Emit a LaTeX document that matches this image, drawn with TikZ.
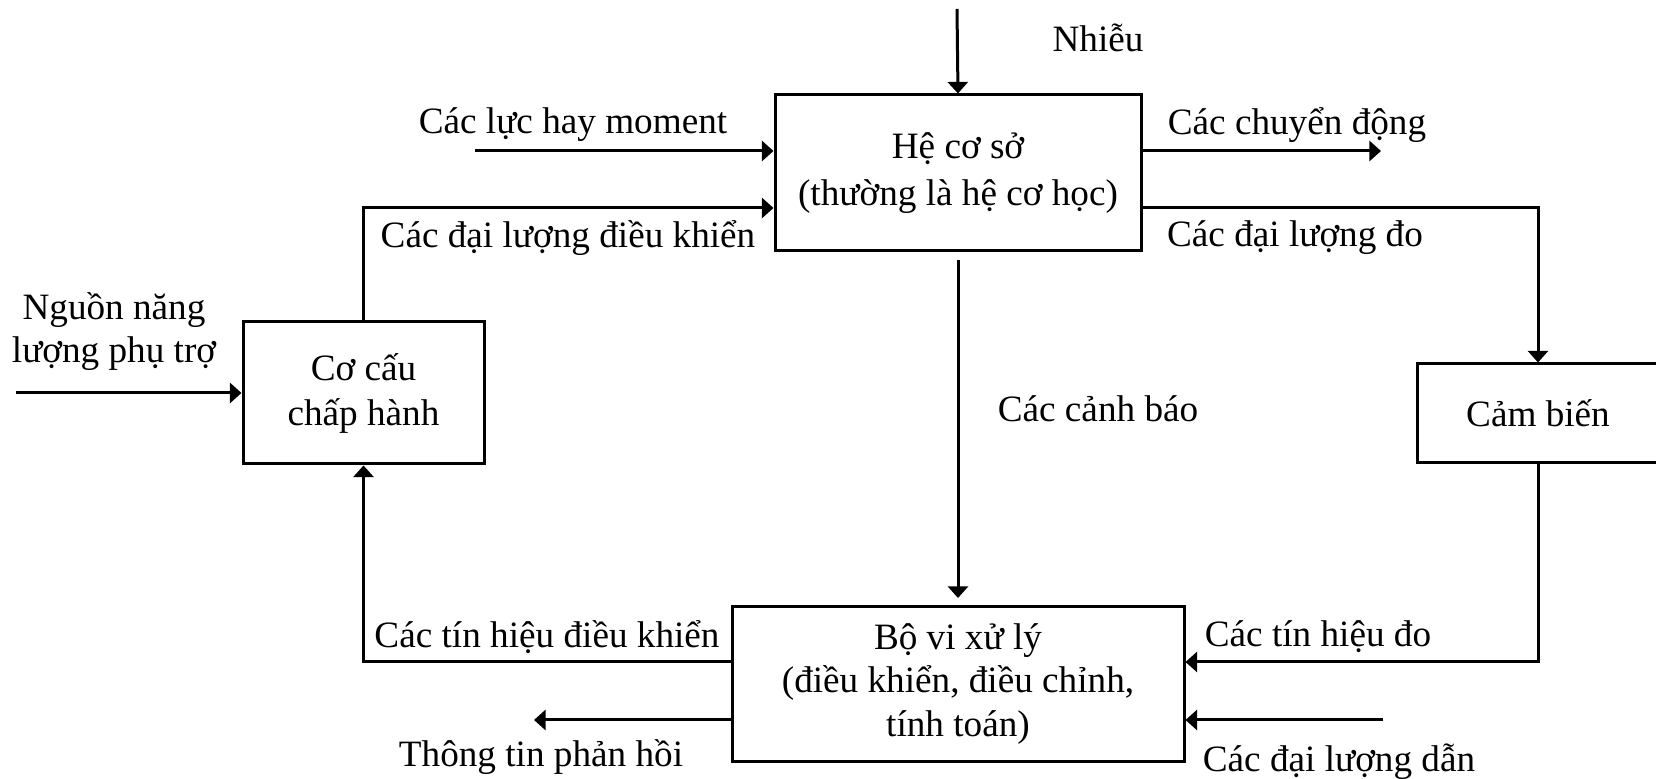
\documentclass[tikz,border=0pt]{standalone}
\usepackage{fontspec}
\setmainfont{Liberation Serif}
\usetikzlibrary{arrows.meta,calc}
\newcommand{\dfont}{\fontsize{18.6}{22.5}\selectfont}
\begin{document}
\begin{tikzpicture}[x=0.5pt,y=-0.5pt,
  box/.style={draw, line width=1.5pt, fill=white, inner sep=0pt, align=center, font=\dfont},
  lbl/.style={inner sep=0pt, align=center, font=\dfont},
  arr/.style={line width=1.5pt, -{Triangle[length=5.8pt,width=10pt]}},
  ln/.style={line width=1.5pt}]
\clip (0,0) rectangle (1656,779);
% boxes
\node[box, minimum width=183pt, minimum height=78pt, font=\fontsize{18.6}{23.5}\selectfont] (main) at (958,173) {\rule{0pt}{3pt}Hệ cơ sở\\(thường là hệ cơ học)};
\node[box, minimum width=120.5pt, minimum height=71pt] (cc) at (363.5,393) {Cơ cấu\\chấp hành};
\node[box, minimum width=121pt, minimum height=49.5pt] (cb) at (1538,413.5) {Cảm biến};
\node[box, minimum width=226pt, minimum height=77.5pt, font=\fontsize{18.6}{21.8}\selectfont] (bo) at (958,684) {Bộ vi xử lý\\(điều khiển, điều chỉnh,\\tính toán)};
% helper coordinates
\coordinate (nh) at (957,9);
\coordinate (fl) at (475,151);
\coordinate (yA) at (0,208);
\coordinate (mv) at (1381,151);
\coordinate (ng) at (16,393);
\coordinate (yB) at (0,662);
\coordinate (tt) at (534,720);
\coordinate (dl) at (1383,720);
% connectors
\draw[arr] (nh) -- (main.north);
\draw[arr] (fl) -- (fl -| main.west);
\draw[arr] (cc.north) |- (main.west |- yA);
\draw[arr] (main.east |- mv) -- (mv);
\draw[arr] (main.east |- yA) -| (cb.north);
\draw[arr, shorten <=4pt, shorten >=3.5pt] (main.south) -- (bo.north);
\draw[arr] (ng) -- (cc.west);
\draw[arr] (bo.west |- yB) -| (cc.south);
\draw[arr] (bo.west |- tt) -- (tt);
\draw[arr] (cb.south) |- (bo.east |- yB);
\draw[arr] (dl) -- (bo.east |- dl);
% labels
\node[lbl] (lnh) at (1098,38) {Nhiễu};
\node[lbl] (lfl) at (573,125) {Các lực hay moment};
\node[lbl] (ldk) at (568,238) {Các đại lượng điều khiển};
\node[lbl] (lcd) at (1297,125) {Các chuyển động};
\node[lbl] (ldo) at (1295,238) {Các đại lượng đo};
\node[lbl, font=\fontsize{18.6}{21.5}\selectfont] (lng) at (114,332) {Nguồn năng\\lượng phụ trợ};
\node[lbl] (lcb) at (1098,409) {Các cảnh báo};
\node[lbl] (ltdk) at (547,637) {Các tín hiệu điều khiển};
\node[lbl] (ltt) at (541,757) {Thông tin phản hồi};
\node[lbl] (ltdo) at (1318,637) {Các tín hiệu đo};
\node[lbl] (ldd) at (1339,762) {Các đại lượng dẫn};
\end{tikzpicture}
\end{document}
